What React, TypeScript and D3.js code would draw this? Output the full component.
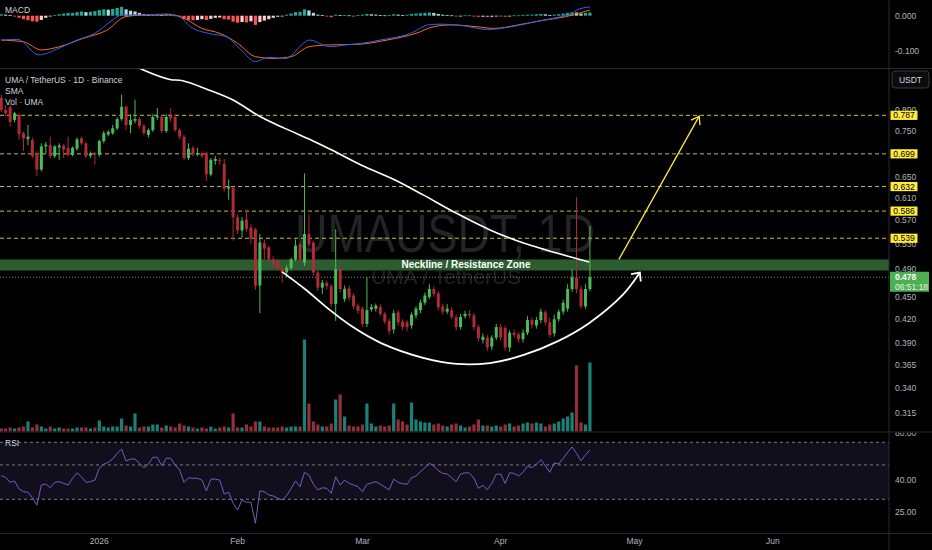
import * as d3 from "d3"

const FIRST_DAY = Date.UTC(2025, 11, 10)
const DAY_MS = 86400000
const LAST_SLOT = 199

// daily candles from 10 Dec 2025: [open, high, low, close]
const ohlc: [number, number, number, number][] = [
  [0.830, 0.838, 0.795, 0.800], [0.800, 0.812, 0.785, 0.792], [0.807, 0.815, 0.760, 0.771], [0.776, 0.795, 0.770, 0.792],
  [0.788, 0.792, 0.730, 0.743], [0.745, 0.748, 0.705, 0.733], [0.732, 0.764, 0.718, 0.737], [0.729, 0.735, 0.690, 0.694],
  [0.700, 0.705, 0.652, 0.666], [0.666, 0.722, 0.662, 0.715], [0.715, 0.725, 0.700, 0.719], [0.718, 0.737, 0.690, 0.694],
  [0.694, 0.718, 0.690, 0.715], [0.713, 0.722, 0.686, 0.717], [0.717, 0.720, 0.690, 0.708], [0.712, 0.737, 0.693, 0.697],
  [0.697, 0.715, 0.694, 0.712], [0.710, 0.735, 0.706, 0.731], [0.733, 0.737, 0.718, 0.722], [0.722, 0.725, 0.690, 0.694],
  [0.695, 0.704, 0.690, 0.700], [0.700, 0.703, 0.676, 0.697], [0.697, 0.730, 0.693, 0.727], [0.727, 0.750, 0.722, 0.745],
  [0.742, 0.752, 0.738, 0.748], [0.745, 0.764, 0.741, 0.756], [0.756, 0.782, 0.752, 0.778], [0.778, 0.839, 0.774, 0.808],
  [0.808, 0.812, 0.752, 0.764], [0.764, 0.790, 0.745, 0.776], [0.774, 0.826, 0.768, 0.778], [0.778, 0.782, 0.755, 0.762],
  [0.762, 0.766, 0.740, 0.745], [0.741, 0.756, 0.735, 0.752], [0.752, 0.790, 0.748, 0.783], [0.782, 0.805, 0.776, 0.785],
  [0.783, 0.788, 0.745, 0.750], [0.750, 0.790, 0.745, 0.783], [0.785, 0.805, 0.772, 0.779], [0.783, 0.790, 0.748, 0.752],
  [0.752, 0.756, 0.730, 0.737], [0.737, 0.741, 0.686, 0.690], [0.690, 0.722, 0.686, 0.710], [0.712, 0.716, 0.694, 0.698],
  [0.698, 0.712, 0.694, 0.700], [0.700, 0.704, 0.690, 0.694], [0.700, 0.704, 0.643, 0.656], [0.656, 0.690, 0.652, 0.686],
  [0.684, 0.694, 0.676, 0.688], [0.686, 0.690, 0.676, 0.684], [0.678, 0.688, 0.622, 0.628], [0.628, 0.646, 0.607, 0.632],
  [0.630, 0.634, 0.535, 0.575], [0.575, 0.580, 0.546, 0.552], [0.552, 0.575, 0.540, 0.569], [0.571, 0.589, 0.550, 0.555],
  [0.557, 0.563, 0.530, 0.538], [0.554, 0.557, 0.460, 0.466], [0.466, 0.546, 0.428, 0.532], [0.531, 0.537, 0.505, 0.522],
  [0.524, 0.527, 0.500, 0.505], [0.505, 0.510, 0.492, 0.497], [0.502, 0.505, 0.488, 0.492], [0.492, 0.495, 0.470, 0.485],
  [0.485, 0.496, 0.478, 0.492], [0.492, 0.508, 0.488, 0.505], [0.505, 0.537, 0.502, 0.527], [0.529, 0.532, 0.500, 0.505],
  [0.500, 0.658, 0.495, 0.546], [0.546, 0.580, 0.524, 0.529], [0.532, 0.535, 0.480, 0.485], [0.485, 0.488, 0.458, 0.463],
  [0.463, 0.474, 0.454, 0.470], [0.470, 0.473, 0.460, 0.465], [0.465, 0.468, 0.436, 0.440], [0.440, 0.554, 0.418, 0.490],
  [0.490, 0.495, 0.456, 0.461], [0.447, 0.466, 0.443, 0.461], [0.462, 0.466, 0.445, 0.449], [0.452, 0.455, 0.433, 0.437],
  [0.438, 0.441, 0.427, 0.431], [0.434, 0.437, 0.410, 0.414], [0.414, 0.478, 0.410, 0.432], [0.433, 0.440, 0.430, 0.436],
  [0.434, 0.441, 0.430, 0.438], [0.436, 0.440, 0.424, 0.427], [0.427, 0.430, 0.414, 0.417], [0.418, 0.421, 0.401, 0.405],
  [0.407, 0.432, 0.402, 0.428], [0.429, 0.432, 0.412, 0.416], [0.417, 0.420, 0.406, 0.410], [0.416, 0.419, 0.405, 0.410],
  [0.412, 0.429, 0.408, 0.426], [0.425, 0.437, 0.421, 0.434], [0.432, 0.446, 0.428, 0.442], [0.442, 0.456, 0.439, 0.452],
  [0.450, 0.468, 0.447, 0.461], [0.461, 0.465, 0.450, 0.454], [0.455, 0.458, 0.432, 0.436], [0.437, 0.441, 0.426, 0.430],
  [0.430, 0.440, 0.427, 0.434], [0.432, 0.436, 0.420, 0.423], [0.423, 0.426, 0.406, 0.410], [0.410, 0.427, 0.407, 0.423],
  [0.424, 0.431, 0.421, 0.427], [0.427, 0.432, 0.422, 0.426], [0.425, 0.428, 0.406, 0.410], [0.410, 0.413, 0.392, 0.396],
  [0.394, 0.402, 0.390, 0.398], [0.397, 0.400, 0.381, 0.385], [0.386, 0.400, 0.382, 0.397], [0.397, 0.414, 0.394, 0.410],
  [0.410, 0.414, 0.393, 0.397], [0.409, 0.412, 0.381, 0.385], [0.385, 0.406, 0.380, 0.403], [0.403, 0.407, 0.397, 0.400],
  [0.401, 0.404, 0.391, 0.395], [0.395, 0.407, 0.391, 0.403], [0.403, 0.424, 0.400, 0.419], [0.419, 0.422, 0.409, 0.413],
  [0.412, 0.423, 0.408, 0.419], [0.419, 0.434, 0.415, 0.430], [0.429, 0.432, 0.412, 0.416], [0.416, 0.422, 0.397, 0.400],
  [0.402, 0.426, 0.398, 0.420], [0.420, 0.433, 0.417, 0.430], [0.430, 0.446, 0.426, 0.442], [0.434, 0.468, 0.430, 0.461],
  [0.461, 0.490, 0.457, 0.478], [0.478, 0.612, 0.455, 0.461], [0.461, 0.466, 0.434, 0.437], [0.437, 0.468, 0.434, 0.461],
  [0.461, 0.560, 0.458, 0.478],
]

const volume = [
  3, 3, 4, 3, 4, 5, 10, 4, 7, 5,
  3, 5, 3, 4, 3, 3, 3, 4, 4, 4,
  3, 4, 11, 5, 4, 5, 5, 13, 6, 5,
  18, 4, 5, 5, 7, 7, 4, 6, 5, 4,
  8, 6, 5, 4, 3, 4, 3, 5, 3, 4,
  5, 4, 18, 4, 4, 7, 5, 10, 10, 5,
  4, 4, 4, 5, 4, 5, 5, 5, 92, 28,
  10, 7, 5, 5, 8, 32, 37, 15, 6, 5,
  5, 7, 28, 8, 5, 6, 5, 6, 28, 12,
  10, 7, 29, 12, 10, 9, 9, 7, 8, 6,
  5, 7, 8, 6, 4, 5, 7, 12, 6, 6,
  5, 6, 5, 7, 8, 5, 6, 8, 9, 8,
  9, 8, 5, 7, 8, 10, 13, 15, 19, 66,
  9, 7, 69,
]

const macdHist = [
  0.004, 0.003, 0.002, -0.002, -0.006, -0.010, -0.013, -0.016, -0.017, -0.012,
  -0.006, -0.002, 0.002, 0.004, 0.006, 0.008, 0.008, 0.010, 0.012, 0.010,
  0.011, 0.013, 0.016, 0.018, 0.017, 0.019, 0.022, 0.025, 0.018, 0.014,
  0.012, 0.008, 0.004, 0.002, 0.004, 0.005, 0.002, 0.004, 0.004, 0.001,
  -0.003, -0.010, -0.012, -0.013, -0.012, -0.010, -0.012, -0.009, -0.006, -0.005,
  -0.010, -0.011, -0.017, -0.020, -0.018, -0.019, -0.016, -0.026, -0.018, -0.014,
  -0.010, -0.006, -0.003, -0.002, 0.003, 0.006, 0.010, 0.011, 0.018, 0.015,
  0.008, 0.003, 0.002, -0.002, -0.004, 0.003, 0.002, 0.002, 0.001, -0.001,
  0.002, 0.003, 0.005, 0.004, 0.003, 0.002, 0.001, 0.002, 0.004, 0.003,
  0.002, 0.003, 0.005, 0.006, 0.007, 0.008, 0.009, 0.008, 0.005, 0.003,
  0.002, 0.001, -0.001, -0.001, 0.001, 0.001, -0.002, -0.003, -0.003, -0.004,
  -0.003, -0.001, -0.002, -0.003, -0.002, 0.001, 0.001, 0.002, 0.003, 0.003,
  0.004, 0.005, 0.004, 0.002, 0.003, 0.004, 0.006, 0.008, 0.010, 0.009,
  0.006, 0.008, 0.009,
]

// [day index, value] read at the turning points
const macdLine: [number, number][] = [
  [0, -0.069], [3.7, -0.067], [8.4, -0.111], [13, -0.092], [17, -0.069], [21, -0.05], [25, -0.012],
  [27, 0.002], [32, 0.002], [37, 0.005], [40, -0.003], [42.4, -0.031], [46.4, -0.05], [50.4, -0.059],
  [53.8, -0.097], [57, -0.13], [59.8, -0.118], [63.8, -0.121], [67.8, -0.078], [69, -0.069], [73.8, -0.088],
  [77, -0.083], [81, -0.078], [85, -0.069], [91.8, -0.05], [95.8, -0.026], [98.5, -0.024], [103.8, -0.029],
  [109, -0.039], [114.5, -0.031], [119.8, -0.017], [123.9, -0.007], [128, 0.007], [129, 0.016], [132, 0.025],
]
const signalLine: [number, number][] = [
  [0, -0.069], [5, -0.074], [9, -0.097], [13, -0.088], [18.4, -0.064], [23.7, -0.041], [27.8, -0.003],
  [32, 0.002], [38.4, 0.002], [41, -0.007], [45, -0.036], [49, -0.05], [53, -0.078], [57, -0.116],
  [61, -0.121], [65, -0.116], [69, -0.088], [73, -0.083], [80, -0.081], [86.5, -0.069], [93, -0.05],
  [97, -0.031], [101, -0.026], [106.5, -0.031], [110.5, -0.036], [116, -0.026], [121, -0.014],
  [126.5, -0.003], [132, 0.016],
]

const rsi = [
  42.6, 41.6, 38.6, 39.4, 35.0, 33.6, 33.3, 30.8, 27.5, 37.1,
  37.7, 35.6, 38.6, 39.0, 38.0, 37.1, 41.0, 44.5, 41.9, 38.6,
  39.0, 39.9, 47.6, 50.5, 52.0, 54.6, 59.4, 63.3, 53.0, 54.6,
  54.6, 51.2, 48.0, 50.5, 56.0, 56.0, 49.4, 55.2, 55.2, 50.0,
  46.4, 38.6, 41.3, 41.0, 41.0, 39.9, 34.0, 40.5, 40.5, 39.9,
  32.5, 33.3, 28.3, 25.6, 29.7, 28.7, 28.7, 21.0, 34.0, 33.6,
  32.0, 31.5, 30.5, 29.7, 31.7, 35.3, 39.4, 36.2, 44.8, 43.0,
  37.5, 34.5, 35.6, 35.3, 32.8, 41.9, 37.1, 39.9, 38.0, 37.1,
  36.2, 33.6, 37.5, 38.2, 39.0, 37.5, 36.0, 34.5, 40.5, 38.6,
  37.8, 37.5, 41.3, 42.4, 45.2, 48.0, 51.2, 49.2, 45.9, 44.1,
  43.7, 41.3, 39.0, 43.7, 44.5, 44.3, 41.0, 35.3, 36.9, 34.6,
  38.0, 43.5, 43.7, 38.0, 44.5, 44.1, 42.4, 44.8, 49.2, 48.0,
  50.5, 54.0, 49.4, 44.8, 51.5, 50.7, 55.2, 60.3, 65.3, 59.4,
  53.2, 58.0, 62.4,
]

const smaLine: [number, number][] = [
  [28, 0.93], [31.5, 0.907], [37.8, 0.879], [40.5, 0.876], [46.1, 0.853], [52, 0.825], [58, 0.784],
  [63.6, 0.756], [69.6, 0.729], [74.8, 0.704], [80.8, 0.675], [88.3, 0.645], [94.6, 0.616],
  [102.1, 0.582], [109.6, 0.553], [117.1, 0.531], [124.6, 0.515], [131.8, 0.501],
]

// hand-drawn annotations
const cupCurve: [number, number][] = [
  [63, 0.486], [68.1, 0.461], [73.3, 0.434], [78.6, 0.411], [85.3, 0.39], [94.6, 0.373], [102.1, 0.366],
  [109.6, 0.367], [117, 0.376], [124.6, 0.392], [131.8, 0.415], [139.4, 0.453], [143.2, 0.485],
]
const targetArrow: [number, number][] = [[138.5, 0.505], [156.5, 0.785]]
const levels = [0.787, 0.699, 0.632, 0.586, 0.539]
const zone = [0.488, 0.505]
const lastPrice = 0.478
const countdown = "06:51:18"

const priceTicks = [0.8, 0.75, 0.7, 0.65, 0.61, 0.57, 0.53, 0.49, 0.45, 0.42, 0.39, 0.365, 0.34, 0.315]
const macdTicks = [0, -0.1]
const rsiTicks = [80, 40, 25]
const rsiBands = [70, 50, 30]

const FONT = "'Liberation Sans', Arial, sans-serif"
const UP = "#4cbb57"
const DOWN = "#b02a37"

function arrowHead(tip: [number, number], from: [number, number], len = 9, spread = 0.75) {
  const ang = Math.atan2(from[1] - tip[1], from[0] - tip[0])
  const a = [tip[0] + len * Math.cos(ang - spread), tip[1] + len * Math.sin(ang - spread)]
  const b = [tip[0] + len * Math.cos(ang + spread), tip[1] + len * Math.sin(ang + spread)]
  return `M${a[0]},${a[1]}L${tip[0]},${tip[1]}L${b[0]},${b[1]}`
}

export default function App() {
  const W = 932
  const H = 550
  const axisX = 889
  const macdBottom = 68.5
  const priceBottom = 432
  const rsiBottom = 533.5

  const dayDate = (k: number) => new Date(FIRST_DAY + k * DAY_MS)
  const x = d3.scaleUtc().domain([dayDate(0), dayDate(LAST_SLOT)]).range([1.2, 1.2 + 4.46 * LAST_SLOT])
  const xk = (k: number) => x(dayDate(k))
  const y = d3.scaleLog().domain([0.315, 0.8]).range([412.7, 110])
  const yVol = d3.scaleLinear().domain([0, 100]).range([431.5, 331.5])
  const yMacd = d3.scaleLinear().domain([-0.1, 0]).range([51, 15.7])
  const yRsi = d3.scaleLog().domain([30, 70]).range([499.3, 442.3])

  const priceLine = d3.line<[number, number]>().x((d) => xk(d[0])).y((d) => y(d[1])).curve(d3.curveCatmullRom)
  const macdPath = d3.line<[number, number]>().x((d) => xk(d[0])).y((d) => yMacd(d[1])).curve(d3.curveMonotoneX)
  const rsiPath = d3.line<number>().x((_, i) => xk(i)).y((d) => yRsi(d))

  const histColor = (v: number, prev: number) =>
    v >= 0 ? (v >= prev ? "#26a69a" : "#b2dfdb") : v < prev ? "#ff5252" : "#ffcdd2"

  const months = d3.utcMonth.range(dayDate(1), dayDate(LAST_SLOT))
  const monthLabel = (d: Date) => (d.getUTCMonth() === 0 ? String(d.getUTCFullYear()) : d3.utcFormat("%b")(d))

  const cupPts = cupCurve.map((d) => [xk(d[0]), y(d[1])] as [number, number])
  const arrowPts = targetArrow.map((d) => [xk(d[0]), y(d[1])] as [number, number])

  const textStyle = { fontFamily: FONT }

  return (
    <svg width={W} height={H} style={{ position: "absolute", left: 0, top: 0, background: "#000" }}>
      <defs>
        <clipPath id="macdClip"><rect x={0} y={0} width={axisX} height={macdBottom} /></clipPath>
        <clipPath id="priceClip"><rect x={0} y={macdBottom} width={axisX} height={priceBottom - macdBottom} /></clipPath>
        <clipPath id="rsiClip"><rect x={0} y={priceBottom} width={axisX} height={rsiBottom - priceBottom} /></clipPath>
        <clipPath id="rsiAxisClip"><rect x={axisX} y={priceBottom + 0.5} width={W - axisX} height={rsiBottom - priceBottom} /></clipPath>
      </defs>
      <rect width={W} height={H} fill="#000" />

      {/* MACD pane */}
      <g clipPath="url(#macdClip)">
        {macdHist.map((v, i) => (
          <rect key={i} x={xk(i) - 1.6} width={3.2}
            y={Math.min(yMacd(v), yMacd(0))} height={Math.max(0.8, Math.abs(yMacd(v) - yMacd(0)))}
            fill={histColor(v, i > 0 ? macdHist[i - 1] : v)} />
        ))}
        <path d={macdPath(signalLine) ?? ""} fill="none" stroke="#ff6d00" strokeWidth={1} />
        <path d={macdPath(macdLine) ?? ""} fill="none" stroke="#2962ff" strokeWidth={1} />
      </g>
      <text x={5} y={13} fill="#d1d4dc" fontSize={8.5} style={textStyle}>MACD</text>
      {macdTicks.map((t) => (
        <text key={t} x={895} y={yMacd(t)} dominantBaseline="central" fill="#b2b5be" fontSize={8.5} style={textStyle}>
          {t === 0 ? "0.000" : t.toFixed(3)}
        </text>
      ))}

      {/* price pane */}
      <g clipPath="url(#priceClip)">
        <text x={445} y={252} textAnchor="middle" fill="#242427" fontSize={54} textLength={300}
          lengthAdjust="spacingAndGlyphs" style={textStyle}>UMAUSDT, 1D</text>
        <rect x={0} width={axisX} y={y(zone[1])} height={y(zone[0]) - y(zone[1])} fill="#2b5d30" />
        <text x={466} y={y(zone[1]) + (y(zone[0]) - y(zone[1])) / 2} dominantBaseline="central" textAnchor="middle"
          fill="#ffffff" fontSize={10} fontWeight="bold" style={textStyle}>Neckline / Resistance Zone</text>
        <text x={446} y={284} textAnchor="middle" fill="#222225" fontSize={21} style={textStyle}>UMA / TetherUS</text>

        {levels.map((l) => (
          <line key={l} x1={0} x2={axisX} y1={y(l)} y2={y(l)} stroke="#c2bd45" strokeWidth={1} strokeDasharray="4 3" />
        ))}
        <line x1={0} x2={axisX} y1={y(lastPrice)} y2={y(lastPrice)} stroke="#7f8a80" strokeWidth={1} strokeDasharray="1 2" />

        {volume.map((v, i) => {
          const [o, , , c] = ohlc[i]
          return (
            <rect key={i} x={xk(i) - 1.6} width={3.2} y={yVol(v)} height={yVol(0) - yVol(v)}
              fill={c >= o ? "#1b8077" : "#93303a"} />
          )
        })}

        {ohlc.map(([o, h, l, c], i) => {
          const col = c >= o ? UP : DOWN
          const top = y(Math.max(o, c))
          const bot = y(Math.min(o, c))
          return (
            <g key={i}>
              <line x1={xk(i)} x2={xk(i)} y1={y(h)} y2={y(l)} stroke={col} strokeWidth={1} />
              <rect x={xk(i) - 1.5} width={3} y={top} height={Math.max(1, bot - top)} fill={col} />
            </g>
          )
        })}

        <path d={priceLine(smaLine) ?? ""} fill="none" stroke="#ffffff" strokeWidth={1.6} />
        <path d={priceLine(cupCurve) ?? ""} fill="none" stroke="#ffffff" strokeWidth={1.8} />
        <path d={arrowHead(cupPts[cupPts.length - 1], cupPts[cupPts.length - 2])} fill="none" stroke="#ffffff" strokeWidth={1.8} />
        <line x1={arrowPts[0][0]} y1={arrowPts[0][1]} x2={arrowPts[1][0]} y2={arrowPts[1][1]} stroke="#ffeb3b" strokeWidth={1.3} />
        <path d={arrowHead(arrowPts[1], arrowPts[0], 9, 0.6)} fill="none" stroke="#ffeb3b" strokeWidth={1.3} />
      </g>
      <text x={5} y={83} fill="#d1d4dc" fontSize={8.5} style={textStyle}>UMA / TetherUS · 1D · Binance</text>
      <text x={5} y={94} fill="#d1d4dc" fontSize={8.5} style={textStyle}>SMA</text>
      <text x={5} y={105} fill="#d1d4dc" fontSize={8.5} style={textStyle}>Vol · UMA</text>

      {/* price axis */}
      <rect x={892} y={71} width={37} height={17} rx={3} fill="#0c0c0e" stroke="#434651" strokeWidth={0.8} />
      <text x={910.5} y={79.5} textAnchor="middle" dominantBaseline="central" fill="#d1d4dc" fontSize={8.5} style={textStyle}>USDT</text>
      {priceTicks.map((t) => (
        <text key={t} x={895} y={y(t)} dominantBaseline="central" fill="#b2b5be" fontSize={8.5} style={textStyle}>
          {t.toFixed(3)}
        </text>
      ))}
      {levels.map((l) => (
        <g key={l}>
          <rect x={890.5} y={y(l) - 4.6} width={27} height={9.2} fill="#ffeb3b" />
          <text x={904} y={y(l)} textAnchor="middle" dominantBaseline="central" fill="#000" fontSize={8.5} style={textStyle}>
            {l.toFixed(3)}
          </text>
        </g>
      ))}
      <rect x={890} y={y(lastPrice) - 5.5} width={39} height={20} fill="#4caf50" />
      <text x={895} y={y(lastPrice)} dominantBaseline="central" fill="#fff" fontSize={8.5} fontWeight="bold" style={textStyle}>
        {lastPrice.toFixed(3)}
      </text>
      <text x={895} y={y(lastPrice) + 9.5} dominantBaseline="central" fill="#e8f5e9" fontSize={8.5} style={textStyle}>{countdown}</text>

      {/* RSI pane */}
      <rect x={0} width={axisX} y={yRsi(70)} height={yRsi(30) - yRsi(70)} fill="#120f1d" />
      {rsiBands.map((b) => (
        <line key={b} x1={0} x2={axisX} y1={yRsi(b)} y2={yRsi(b)} stroke="#787b86" strokeWidth={1} strokeDasharray="3 3" />
      ))}
      <g clipPath="url(#rsiClip)">
        <path d={rsiPath(rsi) ?? ""} fill="none" stroke="#7e57c2" strokeWidth={1} />
      </g>
      <text x={5} y={446} fill="#d1d4dc" fontSize={8.5} style={textStyle}>RSI</text>
      <g clipPath="url(#rsiAxisClip)">
        {rsiTicks.map((t) => (
          <text key={t} x={895} y={yRsi(t)} dominantBaseline="central" fill="#b2b5be" fontSize={8.5} style={textStyle}>
            {t.toFixed(2)}
          </text>
        ))}
      </g>

      {/* time axis */}
      {months.map((m) => (
        <text key={m.getTime()} x={x(m)} y={541} textAnchor="middle" dominantBaseline="central" fill="#b2b5be"
          fontSize={8.5} style={textStyle}>{monthLabel(m)}</text>
      ))}

      {/* separators */}
      <line x1={0} x2={W} y1={macdBottom} y2={macdBottom} stroke="#2a2b30" strokeWidth={1} />
      <line x1={0} x2={W} y1={priceBottom} y2={priceBottom} stroke="#2a2b30" strokeWidth={1} />
      <line x1={0} x2={W} y1={rsiBottom} y2={rsiBottom} stroke="#2a2b30" strokeWidth={1} />
      <line x1={axisX} x2={axisX} y1={0} y2={H} stroke="#2a2b30" strokeWidth={1} />
    </svg>
  )
}
